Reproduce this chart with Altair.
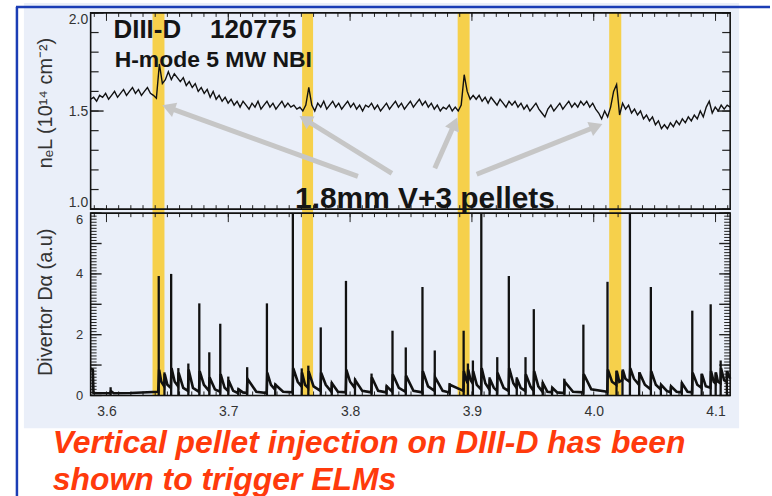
import altair as alt
import numpy as np
import pandas as pd

# ---------------- data ----------------
# line-integrated density n_e L (10^14 cm^-2), uniformly sampled from 3.587 s to 4.112 s
ne_vals = [
    1.56, 1.57, 1.55, 1.58, 1.57, 1.59, 1.56, 1.58, 1.60, 1.57,
    1.59, 1.61, 1.58, 1.60, 1.62, 1.59, 1.61, 1.58, 1.60, 1.62,
    1.59, 1.58, 1.565, 1.74, 1.64, 1.66, 1.70, 1.66, 1.69, 1.67,
    1.65, 1.67, 1.63, 1.65, 1.62, 1.64, 1.60, 1.62, 1.59, 1.61,
    1.57, 1.60, 1.56, 1.58, 1.55, 1.57, 1.54, 1.56, 1.53, 1.55,
    1.52, 1.55, 1.53, 1.51, 1.54, 1.52, 1.55, 1.51, 1.53, 1.55,
    1.52, 1.54, 1.51, 1.53, 1.55, 1.52, 1.54, 1.52, 1.53, 1.51,
    1.52, 1.50, 1.53, 1.62, 1.53, 1.50, 1.54, 1.52, 1.55, 1.51,
    1.53, 1.55, 1.52, 1.54, 1.51, 1.53, 1.55, 1.52, 1.54, 1.51,
    1.53, 1.50, 1.53, 1.52, 1.54, 1.51, 1.53, 1.50, 1.52, 1.54,
    1.51, 1.53, 1.55, 1.52, 1.54, 1.51, 1.53, 1.55, 1.52, 1.54,
    1.56, 1.53, 1.55, 1.52, 1.54, 1.51, 1.53, 1.50, 1.52, 1.51,
    1.53, 1.50, 1.52, 1.50, 1.53, 1.685, 1.60, 1.56, 1.58, 1.56,
    1.58, 1.55, 1.57, 1.54, 1.57, 1.55, 1.53, 1.56, 1.54, 1.52,
    1.55, 1.53, 1.55, 1.52, 1.54, 1.51, 1.53, 1.50, 1.52, 1.54,
    1.51, 1.49, 1.47, 1.51, 1.53, 1.50, 1.52, 1.54, 1.51, 1.53,
    1.55, 1.52, 1.54, 1.52, 1.55, 1.53, 1.55, 1.52, 1.54, 1.51,
    1.49, 1.46, 1.50, 1.47, 1.52, 1.60, 1.635, 1.48, 1.54, 1.51,
    1.53, 1.49, 1.51, 1.48, 1.50, 1.46, 1.48, 1.45, 1.47, 1.43,
    1.45, 1.41, 1.43, 1.41, 1.44, 1.42, 1.45, 1.43, 1.46, 1.44,
    1.47, 1.45, 1.48, 1.46, 1.50, 1.47, 1.52, 1.55, 1.49, 1.52,
    1.50, 1.53, 1.51, 1.53, 1.52,
]
ne_t = np.linspace(3.587, 4.112, len(ne_vals))

# ELM spikes on the divertor D-alpha signal: time (s) and peak (a.u.)
elm_t = [3.6034, 3.6429, 3.6476, 3.6531, 3.6590, 3.6672, 3.6762, 3.6844, 3.6934, 3.7000,
         3.7082, 3.7155, 3.7317, 3.7385, 3.7530, 3.7603, 3.7657, 3.7759, 3.7849, 3.7966,
         3.8040, 3.8176, 3.8299, 3.8348, 3.8457, 3.8594, 3.8695, 3.8817, 3.8932, 3.8967,
         3.9008, 3.9077, 3.9145, 3.9208, 3.9303, 3.9368, 3.9440, 3.9508, 3.9581, 3.9658,
         3.9759, 3.9915, 4.0113, 4.0187, 4.0236, 4.0297, 4.0373, 4.0469, 4.0551, 4.0633,
         4.0723, 4.0809, 4.0886, 4.0960, 4.1001, 4.1042, 4.1093]
elm_peak = [0.27, 3.93, 0.76, 4.00, 0.90, 1.05, 3.03, 1.42, 2.36, 0.62,
            0.23, 0.93, 3.03, 0.39, 6.00, 0.89, 0.98, 2.24, 0.44, 3.77,
            0.56, 0.72, 0.33, 2.13, 1.58, 3.57, 1.48, 0.40, 2.13, 1.05,
            1.15, 6.00, 0.60, 1.26, 3.93, 0.60, 1.26, 2.84, 0.44, 0.27,
            0.55, 2.33, 3.74, 0.82, 0.80, 6.00, 0.76, 3.57, 0.33, 0.30,
            0.44, 2.79, 0.72, 3.00, 0.76, 1.15, 0.80]

# D-alpha background trace (time, value) between the spikes
da_base = [
    (3.5870, 0.88), (3.5888, 0.85), (3.5893, 0.08), (3.6030, 0.07), (3.6036, 0.14), (3.6060, 0.07),
    (3.6200, 0.08), (3.6425, 0.12),
    (3.6432, 0.85), (3.6450, 0.45), (3.6474, 0.30),
    (3.6478, 0.70), (3.6500, 0.35), (3.6528, 0.25),
    (3.6534, 0.90), (3.6560, 0.45), (3.6588, 0.30),
    (3.6592, 0.75), (3.6630, 0.25), (3.6670, 0.15),
    (3.6674, 0.85), (3.6710, 0.25), (3.6760, 0.12),
    (3.6765, 0.80), (3.6800, 0.35), (3.6842, 0.15),
    (3.6846, 0.60), (3.6890, 0.20), (3.6932, 0.12),
    (3.6937, 0.70), (3.6970, 0.25), (3.6998, 0.15),
    (3.7002, 0.50), (3.7040, 0.15), (3.7080, 0.08),
    (3.7084, 0.20), (3.7120, 0.10), (3.7153, 0.08),
    (3.7157, 0.55), (3.7230, 0.12), (3.7315, 0.08),
    (3.7320, 0.75), (3.7350, 0.35), (3.7383, 0.20),
    (3.7387, 0.35), (3.7450, 0.12), (3.7528, 0.10),
    (3.7533, 0.90), (3.7570, 0.45), (3.7601, 0.30),
    (3.7605, 0.75), (3.7630, 0.35), (3.7655, 0.25),
    (3.7659, 0.80), (3.7700, 0.30), (3.7757, 0.15),
    (3.7762, 0.75), (3.7800, 0.35), (3.7847, 0.12),
    (3.7851, 0.40), (3.7900, 0.12), (3.7964, 0.10),
    (3.7969, 0.85), (3.8000, 0.45), (3.8038, 0.25),
    (3.8042, 0.50), (3.8100, 0.15), (3.8174, 0.10),
    (3.8178, 0.60), (3.8230, 0.15), (3.8297, 0.10),
    (3.8301, 0.30), (3.8346, 0.12),
    (3.8350, 0.70), (3.8400, 0.25), (3.8455, 0.12),
    (3.8459, 0.65), (3.8520, 0.15), (3.8592, 0.10),
    (3.8597, 0.80), (3.8640, 0.30), (3.8693, 0.15),
    (3.8697, 0.60), (3.8760, 0.15), (3.8815, 0.10),
    (3.8819, 0.35), (3.8930, 0.15),
    (3.8934, 0.80), (3.8950, 0.55), (3.8965, 0.40),
    (3.8969, 0.85), (3.8990, 0.50), (3.9006, 0.40),
    (3.9010, 0.80), (3.9040, 0.35), (3.9075, 0.20),
    (3.9080, 0.90), (3.9110, 0.40), (3.9143, 0.20),
    (3.9147, 0.55), (3.9180, 0.25), (3.9206, 0.15),
    (3.9210, 0.75), (3.9260, 0.25), (3.9301, 0.15),
    (3.9306, 0.90), (3.9340, 0.40), (3.9366, 0.25),
    (3.9370, 0.55), (3.9400, 0.25), (3.9438, 0.15),
    (3.9442, 0.70), (3.9480, 0.30), (3.9506, 0.15),
    (3.9511, 0.80), (3.9545, 0.30), (3.9579, 0.12),
    (3.9583, 0.40), (3.9620, 0.12), (3.9656, 0.10),
    (3.9660, 0.25), (3.9700, 0.10), (3.9757, 0.08),
    (3.9761, 0.45), (3.9830, 0.12), (3.9913, 0.10),
    (3.9918, 0.70), (3.9980, 0.20), (4.0111, 0.12),
    (4.0116, 0.85), (4.0150, 0.45), (4.0185, 0.35),
    (4.0189, 0.80), (4.0210, 0.45), (4.0234, 0.50),
    (4.0238, 0.85), (4.0260, 0.55), (4.0295, 0.45),
    (4.0300, 0.90), (4.0330, 0.55), (4.0371, 0.35),
    (4.0375, 0.75), (4.0420, 0.35), (4.0467, 0.20),
    (4.0472, 0.80), (4.0510, 0.35), (4.0549, 0.20),
    (4.0553, 0.35), (4.0600, 0.15), (4.0631, 0.10),
    (4.0635, 0.30), (4.0680, 0.12), (4.0721, 0.10),
    (4.0725, 0.40), (4.0770, 0.12), (4.0807, 0.10),
    (4.0812, 0.75), (4.0850, 0.35), (4.0884, 0.25),
    (4.0888, 0.70), (4.0920, 0.30), (4.0958, 0.25),
    (4.0963, 0.80), (4.0985, 0.45), (4.0999, 0.40),
    (4.1003, 0.75), (4.1020, 0.45), (4.1040, 0.40),
    (4.1045, 0.90), (4.1070, 0.50), (4.1091, 0.45),
    (4.1095, 0.80), (4.1120, 0.55),
]

# pellet injection windows (s)
pellet_start = [3.6378, 3.7606, 3.8883, 4.0127]
pellet_end = [3.6476, 3.7696, 3.8981, 4.0226]

# annotation arrows (tail -> head) in data units of the upper panel
arrow_x0 = [3.8064, 3.8343, 3.8695, 3.9039]
arrow_y0 = [1.1675, 1.1827, 1.2081, 1.1777]
arrow_x1 = [3.6509, 3.7630, 3.8858, 4.0021]
arrow_y1 = [1.5178, 1.4569, 1.4365, 1.4213]
arrow_angle = [290, 302, 24, 68]

# texts
ann_text = ["DIII-D", "120775", "H-mode 5 MW NBI", "1.8mm V+3 pellets"]
ann_x = [3.6058, 3.6850, 3.6067, 3.7548]
ann_y = [1.873, 1.873, 1.723, 1.005]
ann_size = [26, 26, 23, 30]
caption = ["Vertical pellet injection on DIII-D has been", "shown to trigger ELMs"]

x_labels = [3.6, 3.7, 3.8, 3.9, 4.0, 4.1]
ne_labels = [1.0, 1.5, 2.0]
da_labels = [0, 2, 4, 6]

# ---------------- layout / style ----------------
W, H1, H2 = 642, 197, 183
FONT = "Liberation Sans"
BLUE = "#1b3db5"
PANEL = "#eaeff9"
YELLOW = "#f6d04b"
GREY = "#c6c6c6"
ORANGE = "#ff3a0c"

xs = alt.Scale(domain=[3.587, 4.112], nice=False, zero=False)
y1s = alt.Scale(domain=[1.0, 2.0], nice=False, zero=False)
y2s = alt.Scale(domain=[0, 6], nice=False, zero=False)

# one axis definition per shared scale, given identically to every layer using it
NE_AXIS = alt.Axis(
    values=ne_labels, format=".1f", domain=False, ticks=False, grid=False,
    labelFontSize=14, labelColor="#333", labelPadding=3, labelFont=FONT, zindex=1,
    labelFlush=True,
    title="nₑL (10¹⁴ cm⁻²)", titleFontSize=20, titleFontWeight="normal", titleColor="#333",
    titleFont=FONT, titleX=-45, titleY=90, titleBaseline="middle", titleAngle=270)
DA_AXIS = alt.Axis(
    values=da_labels, format="d", domain=False, ticks=False, grid=False,
    labelFontSize=13, labelColor="#333", labelPadding=8, labelFont=FONT, zindex=1,
    labelBaseline={"condition": {"test": "datum.value == 6", "value": "top"}, "value": "middle"},
    title="Divertor Dα (a.u)", titleFontSize=20, titleFontWeight="normal", titleColor="#333",
    titleFont=FONT, titleX=-45, titleY=89, titleBaseline="middle", titleAngle=270)
X_AXIS = alt.Axis(
    values=x_labels, format=".1f", domain=False, ticks=False, grid=False, title=None,
    labelFontSize=14, labelColor="#333", labelPadding=9, labelFont=FONT, zindex=1)

one = pd.DataFrame({"k": [0]})
bands = pd.DataFrame({"a": pellet_start, "b": pellet_end})
ne_df = pd.DataFrame({"t": ne_t, "ne": ne_vals})
elm_df = pd.DataFrame({"t": elm_t, "p": elm_peak})
base_df = pd.DataFrame(da_base, columns=["t", "v"])
arrows = pd.DataFrame({"x0": arrow_x0, "y0": arrow_y0, "x1": arrow_x1, "y1": arrow_y1, "ang": arrow_angle})
ann = pd.DataFrame({"txt": ann_text, "x": ann_x, "y": ann_y, "s": ann_size})

x_minor = pd.DataFrame({"v": np.round(np.arange(3.59, 4.1101, 0.01), 3)})
x_major = pd.DataFrame({"v": x_labels})
ne_minor = pd.DataFrame({"v": np.round(np.arange(1.0, 2.001, 0.1), 2)})
ne_major = pd.DataFrame({"v": ne_labels})
da_minor = pd.DataFrame({"v": np.round(np.arange(0, 6.001, 0.1), 2)})
da_major = pd.DataFrame({"v": [0, 1, 2, 3, 4, 5, 6]})


def yticks(df, scale, axis, length, width):
    left = alt.Chart(df).mark_rule(color="#222", strokeWidth=width).encode(
        y=alt.Y("v:Q", scale=scale, axis=axis), x=alt.value(0), x2=alt.value(length))
    right = alt.Chart(df).mark_rule(color="#222", strokeWidth=width).encode(
        y=alt.Y("v:Q", scale=scale, axis=axis), x=alt.value(W), x2=alt.value(W - length))
    return [left, right]


def xticks(df, axis, y0, y1, width=1):
    return alt.Chart(df).mark_rule(color="#222", strokeWidth=width).encode(
        x=alt.X("v:Q", scale=xs, axis=axis), y=alt.value(y0), y2=alt.value(y1))


def frame(h):
    return alt.Chart(one).mark_rect(fillOpacity=0, stroke="#111", strokeWidth=1.6).encode(
        x=alt.value(0), x2=alt.value(W), y=alt.value(0), y2=alt.value(h))


# ---------------- upper panel ----------------
deco = [
    alt.Chart(one).mark_rect(color="white").encode(
        x=alt.value(-90), x2=alt.value(682), y=alt.value(-11), y2=alt.value(485)),
    alt.Chart(one).mark_rect(color=PANEL).encode(
        x=alt.value(-67), x2=alt.value(651), y=alt.value(-10), y2=alt.value(417)),
    alt.Chart(one).mark_rule(color=BLUE, strokeWidth=2.5).encode(
        x=alt.value(-74), y=alt.value(-6), y2=alt.value(485)),
    alt.Chart(one).mark_rule(color=BLUE, strokeWidth=2.5).encode(
        x=alt.value(-75), x2=alt.value(682), y=alt.value(-6)),
]

band_top = alt.Chart(bands).mark_rect(color=YELLOW).encode(
    x=alt.X("a:Q", scale=xs, axis=None), x2="b:Q", y=alt.value(0), y2=alt.value(H1 + 4))

ne_line = alt.Chart(ne_df).mark_line(color="#111", strokeWidth=1.4).encode(
    x=alt.X("t:Q", scale=xs, axis=None),
    y=alt.Y("ne:Q", scale=y1s, axis=NE_AXIS))

shafts = alt.Chart(arrows).mark_rule(color=GREY, strokeWidth=5).encode(
    x=alt.X("x0:Q", scale=xs, axis=None), y=alt.Y("y0:Q", scale=y1s, axis=NE_AXIS), x2="x1:Q", y2="y1:Q")
heads = alt.Chart(arrows).mark_point(shape="triangle-up", filled=True, color=GREY, opacity=1, size=230).encode(
    x=alt.X("x1:Q", scale=xs, axis=None), y=alt.Y("y1:Q", scale=y1s, axis=NE_AXIS),
    angle=alt.Angle("ang:Q", scale=None))

texts = alt.Chart(ann).mark_text(align="left", baseline="alphabetic", fontWeight="bold",
                                 color="#151515", font=FONT).encode(
    x=alt.X("x:Q", scale=xs, axis=None), y=alt.Y("y:Q", scale=y1s, axis=NE_AXIS),
    text="txt:N", size=alt.Size("s:Q", scale=None))

top = alt.layer(
    *deco, band_top,
    *yticks(ne_minor, y1s, NE_AXIS, 8, 1.2), *yticks(ne_major, y1s, NE_AXIS, 13, 1.4),
    xticks(x_minor, None, 0, 4), xticks(x_major, None, 0, 8), xticks(x_minor, None, H1, H1 - 4),
    ne_line, shafts, heads, frame(H1), texts,
).properties(width=W, height=H1)

# ---------------- lower panel ----------------
band_bot = alt.Chart(bands).mark_rect(color=YELLOW).encode(
    x=alt.X("a:Q", scale=xs, axis=X_AXIS), x2="b:Q", y=alt.value(0), y2=alt.value(H2))

base_line = alt.Chart(base_df).mark_line(color="#111", strokeWidth=2.6).encode(
    x=alt.X("t:Q", scale=xs, axis=X_AXIS),
    y=alt.Y("v:Q", scale=y2s, axis=DA_AXIS))

spikes = alt.Chart(elm_df).mark_rule(color="#111", strokeWidth=2.3).encode(
    x=alt.X("t:Q", scale=xs, axis=X_AXIS),
    y=alt.Y("p:Q", scale=y2s, axis=DA_AXIS),
    y2=alt.datum(0))

cap = alt.Chart(one).mark_text(text=caption, align="left", baseline="alphabetic", font=FONT,
                               fontSize=32, fontWeight="bold", fontStyle="italic", color=ORANGE,
                               lineHeight=37).encode(x=alt.value(-38), y=alt.value(241))

bottom = alt.layer(
    band_bot,
    *yticks(da_minor, y2s, DA_AXIS, 6, 1.0), *yticks(da_major, y2s, DA_AXIS, 11, 1.4),
    xticks(x_minor, X_AXIS, 0, 4), xticks(x_major, X_AXIS, 0, 9), xticks(x_minor, X_AXIS, H2, H2 - 4),
    base_line, spikes, frame(H2), cap,
).properties(width=W, height=H2)

chart = alt.vconcat(top, bottom, spacing=4, bounds="flush").properties(
    padding=0, background="white"
).configure_view(stroke=None).configure(font=FONT)

chart.save("out.html", embed_options={"renderer": "svg", "actions": False})
